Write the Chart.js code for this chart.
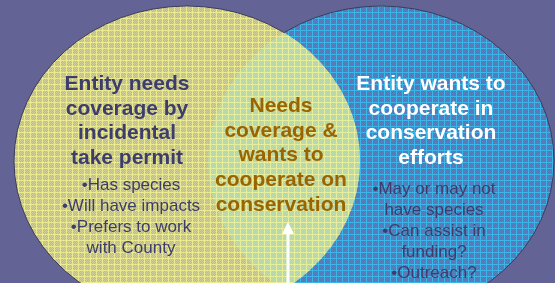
<!DOCTYPE html>
<html><head><meta charset="utf-8">
<script src="https://cdn.jsdelivr.net/npm/chart.js@4"></script>
<style>html,body{margin:0;padding:0;background:#636495;overflow:hidden}canvas{display:block}</style>
</head><body>
<canvas id="c" width="555" height="283"></canvas>
<script>
// ---- data ----
const setNames = ["Entity needs coverage by incidental take permit", "Entity wants to cooperate in conservation efforts"];
const leftTitle = ["Entity needs", "coverage by", "incidental", "take permit"];
const leftItems = ["\u2022Has species", "\u2022Will have impacts", "\u2022Prefers to work", "with County"];
const overlapTitle = ["Needs", "coverage &", "wants to", "cooperate on", "conservation"];
const rightTitle = ["Entity wants to", "cooperate in", "conservation", "efforts"];
const rightItems = ["\u2022May or may not", "have species", "\u2022Can assist in", "funding?", "\u2022Outreach?"];
const setX = [-0.5607, 0.5607];
const setY = [0, 0];
const setR = [1, 1];

const canvas = document.getElementById('c');
const ctx0 = canvas.getContext('2d');
function makePattern(line, a, b) {
  const t = document.createElement('canvas'); t.width = 6; t.height = 6;
  const g = t.getContext('2d');
  for (let i = 0; i < 6; i++) for (let j = 0; j < 6; j++) {
    g.fillStyle = (i === 0 || j === 0) ? line : ((i + j) % 2 ? a : b);
    g.fillRect(i, j, 1, 1);
  }
  return ctx0.createPattern(t, 'repeat');
}
const patL = makePattern('#ecea8e', '#b8b8a6', '#d2d09c');
const patR = makePattern('#3ab6e8', '#4688c4', '#5678b6');
const patI = makePattern('#e6ee9c', '#a6d6c4', '#bedcb2');

const venn = {
  id: 'venn',
  beforeDatasetsDraw(chart) {
    const ctx = chart.ctx, xs = chart.scales.x, ys = chart.scales.y;
    const W = chart.width, H = chart.height;
    const ell = i => {
      const cx = xs.getPixelForValue(setX[i]), cy = ys.getPixelForValue(setY[i]);
      return { cx, cy, rx: xs.getPixelForValue(setX[i] + setR[i]) - cx, ry: cy - ys.getPixelForValue(setY[i] + setR[i]) };
    };
    const path = e => { ctx.beginPath(); ctx.ellipse(e.cx, e.cy, e.rx, e.ry, 0, 0, Math.PI * 2); };
    const L = ell(0), R = ell(1);
    ctx.save();
    path(R); ctx.fillStyle = patR; ctx.fill();
    path(L); ctx.fillStyle = patL; ctx.fill();
    ctx.save(); path(R); ctx.clip(); path(L); ctx.fillStyle = patI; ctx.fill(); ctx.restore();
    ctx.strokeStyle = '#3c3c5c'; ctx.lineWidth = 1;
    const outside = e => { ctx.beginPath(); ctx.rect(0, 0, W, H); ctx.moveTo(e.cx + e.rx, e.cy); ctx.ellipse(e.cx, e.cy, e.rx, e.ry, 0, 0, Math.PI * 2); ctx.clip('evenodd'); };
    ctx.save(); outside(R); path(L); ctx.stroke(); ctx.restore();
    ctx.save(); outside(L); path(R); ctx.stroke(); ctx.restore();
    ctx.restore();
  },
  afterDatasetsDraw(chart) {
    const ctx = chart.ctx;
    ctx.save();
    ctx.textAlign = 'center'; ctx.textBaseline = 'alphabetic';
    const block = (lines, x, y0, dy, font, color) => {
      ctx.font = font; ctx.fillStyle = color;
      lines.forEach((s, i) => ctx.fillText(s, x, y0 + i * dy));
    };
    const bold = 'bold 21px "Liberation Sans", Arial, sans-serif';
    const reg = '17px "Liberation Sans", Arial, sans-serif';
    block(leftTitle, 127, 90, 24.6, bold, '#3d3d6b');
    block(leftItems, 131, 189.5, 21.2, reg, '#3d3d6b');
    block(overlapTitle, 281, 112, 24.7, bold, '#9a6400');
    block(rightTitle, 431, 90, 24.6, bold, '#ffffff');
    block(rightItems, 434, 194, 21, reg, '#3d3d6b');
    // arrow
    ctx.fillStyle = '#ffffff';
    ctx.fillRect(286.5, 232, 3, 52);
    ctx.beginPath(); ctx.moveTo(288, 222); ctx.lineTo(294, 234); ctx.lineTo(282, 234); ctx.closePath(); ctx.fill();
    ctx.restore();
  }
};

new Chart(canvas, {
  type: 'scatter',
  data: {
    datasets: setNames.map((n, i) => ({ label: n, data: [{ x: setX[i], y: setY[i] }], pointRadius: 0 }))
  },
  options: {
    responsive: false, animation: false, devicePixelRatio: 1,
    layout: { padding: 0 },
    plugins: { legend: { display: false }, tooltip: { enabled: false }, title: { display: false } },
    scales: {
      x: { type: 'linear', min: -1.6416, max: 1.5665, display: false },
      y: { type: 'linear', min: -0.7871, max: 1.0387, display: false }
    }
  },
  plugins: [venn]
});
</script>
</body></html>
